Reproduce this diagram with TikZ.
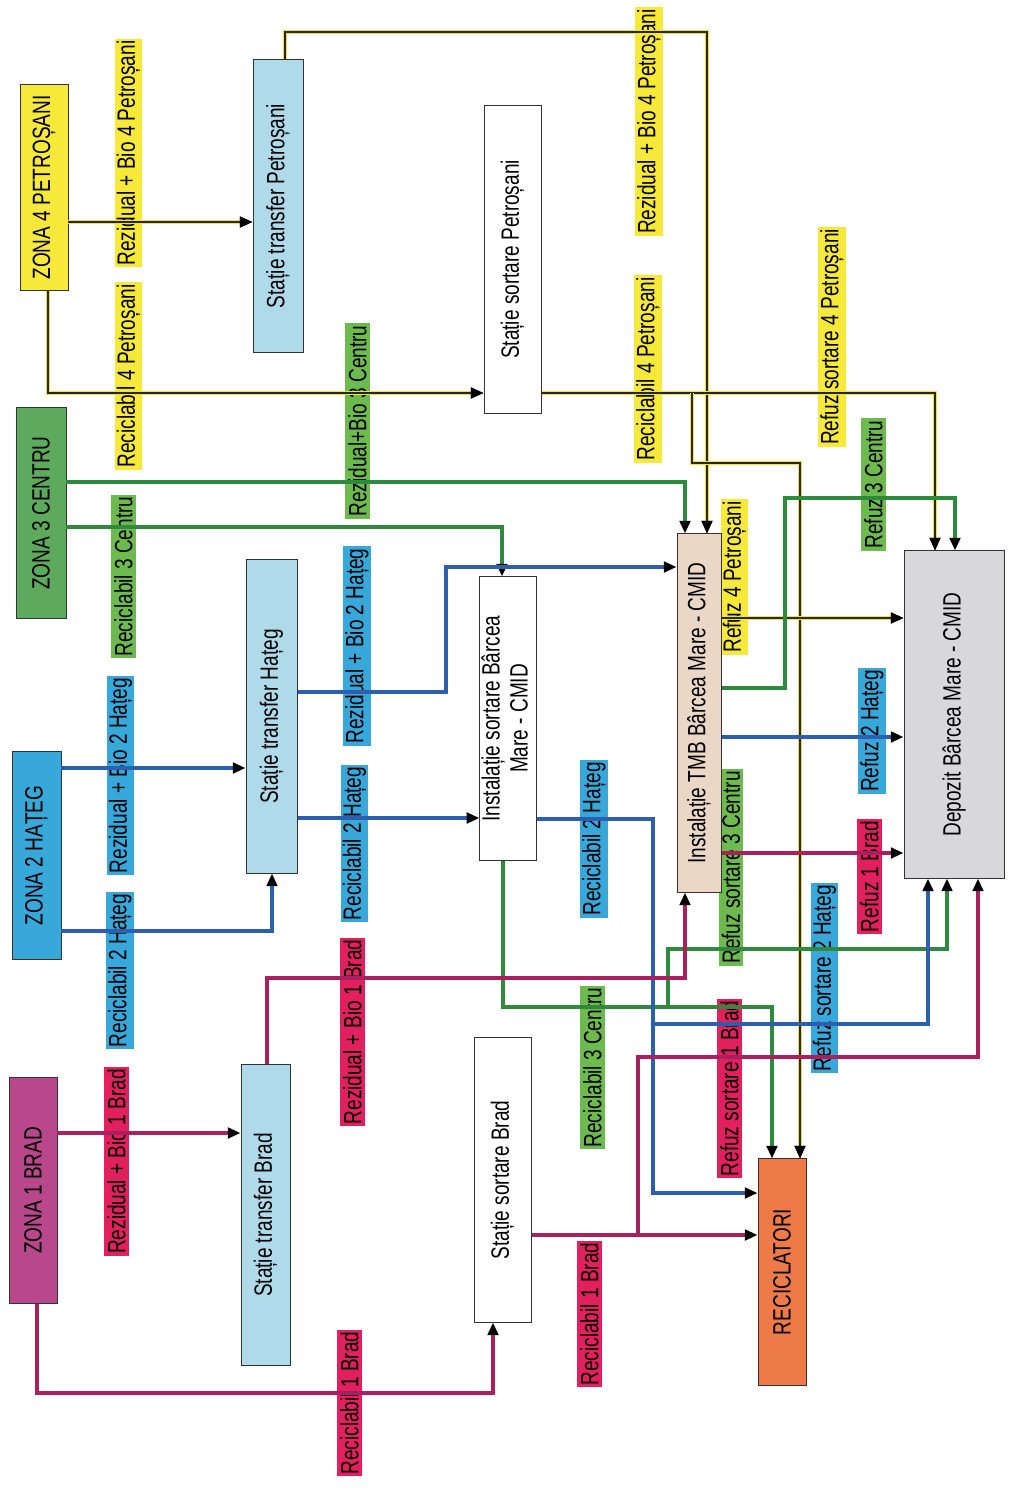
\documentclass[tikz,border=0pt]{standalone}
\usepackage{fontspec}
\usepackage{graphicx}
\usetikzlibrary{arrows.meta}
\newfontfamily\diagfont{Liberation Sans}[FakeStretch=0.76]
\definecolor{ylwfill}{HTML}{F7E93A}
\definecolor{ylwline}{HTML}{F2E23C}
\definecolor{grnfill}{HTML}{6DBB4E}
\definecolor{grnzone}{HTML}{5DAA5C}
\definecolor{grnline}{HTML}{2E8B3E}
\definecolor{bluefill}{HTML}{38A7DA}
\definecolor{blueline}{HTML}{2C5FB0}
\definecolor{magfill}{HTML}{E3205F}
\definecolor{magzone}{HTML}{B8478C}
\definecolor{magline}{HTML}{A8205E}
\definecolor{trfill}{HTML}{AEDAEA}
\definecolor{tmbfill}{HTML}{EAD7C5}
\definecolor{depfill}{HTML}{D8D8DA}
\definecolor{recfill}{HTML}{EE7B47}
\newcommand{\vt}[1]{\rotatebox{90}{#1}}

\begin{document}
\begin{tikzpicture}[x=0.025cm,y=-0.025cm]
    \tikzstyle{box}=[draw=black!80,line width=0.7pt,inner sep=0pt,font=\diagfont\fontsize{17.8}{20}\selectfont]
    \tikzstyle{tag}=[inner sep=1.5pt,minimum width=0.62cm,font=\diagfont\fontsize{17.8}{20}\selectfont]
    \tikzstyle{tip}=[-{Triangle[length=9pt,width=7.5pt,black]}]
    \tikzstyle{yflow}=[tip,draw=black!85,line width=0.8pt,preaction={draw=ylwline,line width=3.2pt}]
    \tikzstyle{gflow}=[tip,draw=grnline,line width=2.6pt]
    \tikzstyle{bflow}=[tip,draw=blueline,line width=2.6pt]
    \tikzstyle{mflow}=[tip,draw=magline,line width=2.6pt]

    \useasboundingbox (0,0) rectangle (1008,1495);

    \node[tag,fill=ylwfill] (rb4a) at (128.5,153) {\vt{Rezidual + Bio 4 Petroșani}};
    \node[tag,fill=ylwfill] (rc4a) at (128.5,376) {\vt{Reciclabil 4 Petroșani}};
    \node[tag,fill=ylwfill] (rb4b) at (649,121.5) {\vt{Rezidual + Bio 4 Petroșani}};
    \node[tag,fill=ylwfill] (rc4b) at (648,369) {\vt{Reciclabil 4 Petroșani}};
    \node[tag,fill=ylwfill] (rs4) at (832,337) {\vt{Refuz sortare 4 Petroșani}};
    \node[tag,fill=ylwfill] (rf4) at (734.5,577) {\vt{Refuz 4 Petroșani}};

    \node[tag,fill=grnfill] (rb3) at (357.5,421) {\vt{Rezidual+Bio 3 Centru}};
    \node[tag,fill=grnfill] (rc3a) at (123.5,576.5) {\vt{Reciclabil 3 Centru}};
    \node[tag,fill=grnfill] (rf3) at (873.5,484.5) {\vt{Refuz 3 Centru}};
    \node[tag,fill=grnfill] (rs3) at (731,867.5) {\vt{Refuz  sortare  3 Centru}};
    \node[tag,fill=grnfill] (rc3b) at (592.5,1067.5) {\vt{Reciclabil 3 Centru}};

    \node[tag,fill=bluefill] (rb2a) at (120.5,775.5) {\vt{Rezidual + Bio 2 Hațeg}};
    \node[tag,fill=bluefill] (rc2a) at (120,970.5) {\vt{Reciclabil 2 Hațeg}};
    \node[tag,fill=bluefill] (rb2b) at (357,646) {\vt{Rezidual + Bio 2 Hațeg}};
    \node[tag,fill=bluefill] (rc2b) at (354.5,843.5) {\vt{Reciclabil 2 Hațeg}};
    \node[tag,fill=bluefill] (rc2c) at (594,839) {\vt{Reciclabil 2 Hațeg}};
    \node[tag,fill=bluefill] (rf2) at (872,731) {\vt{Refuz 2 Hațeg}};
    \node[tag,fill=bluefill] (rs2) at (824.5,978) {\vt{Refuz sortare 2 Hațeg}};

    \node[tag,fill=magfill] (rb1a) at (116.5,1161.5) {\vt{Rezidual + Bio 1 Brad}};
    \node[tag,fill=magfill] (rb1b) at (352.5,1032) {\vt{Rezidual + Bio 1 Brad}};
    \node[tag,fill=magfill] (rc1a) at (349.5,1403) {\vt{Reciclabil 1 Brad}};
    \node[tag,fill=magfill] (rc1b) at (589.5,1314) {\vt{Reciclabil 1 Brad}};
    \node[tag,fill=magfill] (rs1) at (729.5,1088.5) {\vt{Refuz sortare 1 Brad}};
    \node[tag,fill=magfill] (rf1) at (869.5,876.5) {\vt{Refuz 1 Brad}};

    \node[box,fill=ylwfill,minimum width=1.2cm,minimum height=5.125cm] (z4) at (44,187.5) {\vt{ZONA 4 PETROȘANI}};
    \node[box,fill=trfill,minimum width=1.25cm,minimum height=7.3cm] (tp) at (278,206) {\vt{Stație transfer Petroșani}};
    \node[box,fill=white,minimum width=1.425cm,minimum height=7.675cm] (sp) at (512.5,259.5) {\vt{Stație sortare Petroșani}};
    \node[box,fill=grnzone,minimum width=1.25cm,minimum height=5.25cm] (z3) at (41,513) {\vt{ZONA 3 CENTRU}};
    \node[box,fill=trfill,minimum width=1.275cm,minimum height=7.825cm] (th) at (271.5,716.5) {\vt{Stație transfer Hațeg}};
    \node[box,fill=white,minimum width=1.4cm,minimum height=7.075cm] (isb) at (508,718.5) {\vt{\begin{tabular}{@{}c@{}}Instalație sortare Bârcea\\Mare - CMID\end{tabular}}};
    \node[box,fill=tmbfill,minimum width=1.1cm,minimum height=8.95cm] (tmb) at (699,713) {\vt{Instalație TMB Bârcea Mare - CMID}};
    \node[box,fill=depfill,minimum width=2.5cm,minimum height=8.175cm] (dep) at (954,714.5) {\vt{Depozit Bârcea Mare - CMID}};
    \node[box,fill=bluefill,minimum width=1.225cm,minimum height=5.175cm] (z2) at (36.5,855.5) {\vt{ZONA 2 HAȚEG}};
    \node[box,fill=magzone,minimum width=1.2cm,minimum height=5.625cm] (z1) at (33,1190.5) {\vt{ZONA 1 BRAD}};
    \node[box,fill=trfill,minimum width=1.225cm,minimum height=7.5cm] (tb) at (265.5,1215) {\vt{Stație transfer Brad}};
    \node[box,fill=white,minimum width=1.425cm,minimum height=7.1cm] (sb) at (502.5,1180) {\vt{Stație sortare Brad}};
    \node[box,fill=recfill,minimum width=1.2cm,minimum height=5.65cm] (rec) at (782,1272) {\vt{RECICLATORI}};

    \coordinate (yb) at (692,393);
    \coordinate (gb) at (668,1007);
    \coordinate (bb) at (653,1024);
    \coordinate (mb) at (638,1235);

    \draw[yflow] (z4.east |- 0,222) -- (tp.west |- 0,222);
    \draw[yflow] (tp.north -| 285,0) |- (707,32) -- (tmb.north -| 707,0);
    \draw[yflow] (z4.south -| 48,0) |- (sp.west |- 0,393);
    \draw[yflow] (sp.east |- 0,393) -| (dep.north -| 935,0);
    \draw[yflow] (yb) |- (800,463) -- (rec.north -| 800,0);
    \draw[yflow] (tmb.east |- 0,618) -- (dep.west |- 0,618);

    \draw[gflow] (z3.east |- 0,482) -| (tmb.north -| 685,0);
    \draw[gflow] (z3.east |- 0,527) -| (isb.north -| 502,0);
    \draw[gflow] (isb.south -| 503,0) |- (772,1007) -- (rec.north -| 772,0);
    \draw[gflow] (gb) |- (947,949) -- (dep.south -| 947,0);
    \draw[gflow] (tmb.east |- 0,688) -| (785,498) -| (dep.north -| 955,0);

    \draw[bflow] (z2.east |- 0,768) -- (th.west |- 0,768);
    \draw[bflow] (z2.east |- 0,931) -| (th.south -| 272,0);
    \draw[bflow] (th.east |- 0,692) -| (446,567) -- (tmb.west |- 0,567);
    \draw[bflow] (th.east |- 0,818) -- (isb.west |- 0,818);
    \draw[bflow] (isb.east |- 0,819) -| (653,1193) -- (rec.west |- 0,1193);
    \draw[bflow] (bb) -| (dep.south -| 928,0);
    \draw[bflow] (tmb.east |- 0,737) -- (dep.west |- 0,737);

    \draw[mflow] (z1.east |- 0,1133) -- (tb.west |- 0,1133);
    \draw[mflow] (z1.south -| 37,0) |- (493,1393) -- (sb.south -| 493,0);
    \draw[mflow] (tb.north -| 267,0) |- (685,978) -- (tmb.south -| 685,0);
    \draw[mflow] (sb.east |- 0,1235) -- (rec.west |- 0,1235);
    \draw[mflow] (mb) |- (978,1057) -- (dep.south -| 978,0);
    \draw[mflow] (tmb.east |- 0,853) -- (dep.west |- 0,853);
\end{tikzpicture}
\end{document}
